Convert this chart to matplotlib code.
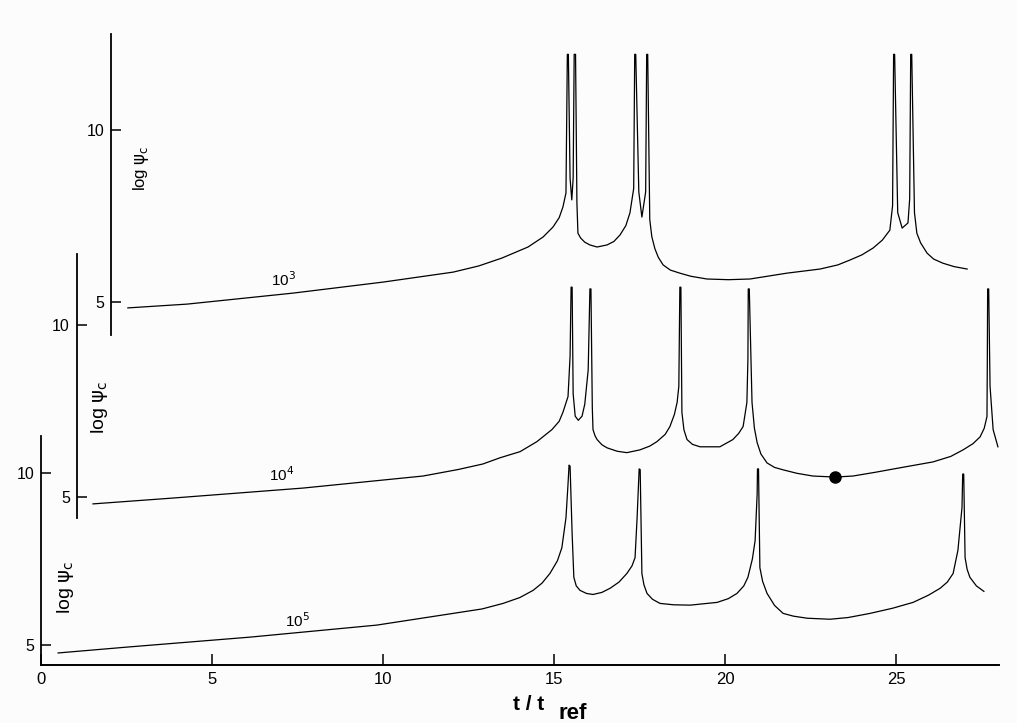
"""
plot.py
三条 log psi_c 随 t/t_ref 变化的曲线（10^3, 10^4, 10^5），纵轴相互错开。
"""
import matplotlib
matplotlib.use('Agg')
import matplotlib.pyplot as plt

plt.rcParams['font.family'] = ['Liberation Sans', 'DejaVu Sans']

# ---- 数据：10^3 曲线（上方坐标轴）----
t_1e3 = [2.54, 4.27, 7.37, 10.0, 12.05, 12.8, 13.48, 14.24, 14.68, 14.97, 15.15,
         15.26, 15.35, 15.39, 15.42, 15.47, 15.52, 15.56, 15.59, 15.63, 15.67,
         15.70, 15.78, 15.90, 16.05, 16.26, 16.55, 16.75, 16.93, 17.10, 17.22,
         17.33, 17.36, 17.39, 17.48, 17.57, 17.68, 17.71, 17.74, 17.80, 17.86,
         17.95, 18.05, 18.19, 18.40, 18.68, 19.0, 19.47, 20.1, 20.73, 21.81,
         22.78, 23.3, 23.65, 24.0, 24.33, 24.6, 24.82, 24.90, 24.93, 24.96,
         25.05, 25.18, 25.35, 25.40, 25.43, 25.46, 25.54, 25.61, 25.72, 25.91,
         26.1, 26.37, 26.7, 27.08]
psi_1e3 = [4.83, 4.94, 5.26, 5.58, 5.87, 6.05, 6.28, 6.60, 6.89, 7.18, 7.45,
           7.76, 8.17, 12.2, 12.2, 8.6, 7.97, 8.6, 12.2, 12.2, 7.88,
           7.0, 6.86, 6.74, 6.66, 6.60, 6.66, 6.76, 6.95, 7.22, 7.59,
           8.3, 12.2, 12.2, 8.2, 7.47, 8.2, 12.2, 12.2, 7.4, 6.9,
           6.55, 6.30, 6.08, 5.93, 5.84, 5.75, 5.67, 5.65, 5.67, 5.84,
           5.96, 6.08, 6.22, 6.37, 6.57, 6.80, 7.09, 7.8, 12.2, 12.2,
           7.6, 7.15, 7.30, 8.0, 12.2, 12.2, 7.6, 7.0, 6.72, 6.42,
           6.25, 6.13, 6.03, 5.96]

# ---- 数据：10^4 曲线（中间坐标轴）----
t_1e4 = [1.52, 3.86, 7.66, 11.17, 12.2, 12.92, 13.42, 14.01, 14.50, 14.94,
         15.15, 15.26, 15.41, 15.47, 15.50, 15.53, 15.56, 15.62, 15.71, 15.82,
         15.90, 16.00, 16.05, 16.08, 16.12, 16.14, 16.20, 16.26, 16.40, 16.55,
         16.85, 17.13, 17.51, 17.80, 18.01, 18.25, 18.39, 18.52, 18.60, 18.65,
         18.68, 18.71, 18.74, 18.80, 18.89, 19.05, 19.27, 19.85, 20.23, 20.40,
         20.53, 20.64, 20.67, 20.68, 20.71, 20.79, 20.86, 20.94, 21.05, 21.23,
         21.45, 21.70, 22.10, 22.57, 23.22, 23.74, 24.4, 25.12, 26.08, 26.6,
         26.96, 27.25, 27.46, 27.58, 27.66, 27.67, 27.68, 27.71, 27.75, 27.84,
         27.98]
psi_1e4 = [4.80, 4.97, 5.26, 5.61, 5.80, 5.96, 6.14, 6.32, 6.61, 6.96,
           7.2, 7.46, 7.92, 9.09, 11.1, 11.1, 8.0, 7.35, 7.23, 7.35,
           7.7, 8.7, 11.05, 11.05, 7.6, 6.96, 6.78, 6.67, 6.52, 6.43,
           6.33, 6.29, 6.37, 6.48, 6.61, 6.82, 7.05, 7.4, 7.75, 8.22,
           11.1, 11.1, 7.46, 6.95, 6.67, 6.53, 6.46, 6.46, 6.67, 6.85,
           7.05, 7.75, 9.0, 11.05, 11.05, 7.75, 7.0, 6.58, 6.25, 5.99,
           5.86, 5.79, 5.69, 5.61, 5.58, 5.61, 5.72, 5.85, 6.02, 6.18,
           6.37, 6.55, 6.75, 7.0, 7.34, 8.92, 11.05, 11.05, 8.22, 6.96,
           6.46]
t_dot, psi_dot = 23.22, 5.58

# ---- 数据：10^5 曲线（下方坐标轴）----
t_1e5 = [0.50, 2.51, 6.11, 9.82, 12.05, 12.9, 13.51, 14.0, 14.39, 14.65,
         14.88, 15.10, 15.23, 15.35, 15.41, 15.44, 15.47, 15.53, 15.58, 15.65,
         15.76, 15.95, 16.14, 16.40, 16.64, 16.90, 17.13, 17.28, 17.37, 17.43,
         17.49, 17.52, 17.57, 17.63, 17.72, 17.88, 18.10, 18.50, 18.98, 19.77,
         20.10, 20.35, 20.55, 20.67, 20.80, 20.88, 20.94, 20.95, 20.98, 21.02,
         21.10, 21.23, 21.45, 21.70, 22.00, 22.40, 23.07, 23.6, 24.24, 24.9,
         25.50, 25.95, 26.29, 26.50, 26.67, 26.81, 26.93, 26.95, 26.98, 27.02,
         27.08, 27.16, 27.35, 27.57]
psi_1e5 = [4.77, 4.94, 5.23, 5.58, 5.92, 6.05, 6.21, 6.38, 6.59, 6.8,
           7.08, 7.45, 7.83, 8.70, 9.68, 10.23, 10.2, 8.24, 6.97, 6.72,
           6.59, 6.50, 6.47, 6.53, 6.65, 6.83, 7.08, 7.3, 7.54, 8.70,
           10.12, 10.1, 7.08, 6.75, 6.50, 6.33, 6.21, 6.17, 6.16, 6.24,
           6.35, 6.50, 6.72, 6.97, 7.5, 8.03, 9.39, 10.12, 10.12, 7.25,
           6.85, 6.50, 6.15, 5.92, 5.84, 5.78, 5.75, 5.80, 5.92, 6.07,
           6.24, 6.45, 6.65, 6.83, 7.08, 7.75, 9.0, 9.97, 9.97, 7.54,
           7.2, 6.97, 6.72, 6.56]

x_ticks = [0, 5, 10, 15, 20, 25]
y_ticks = [5, 10]

W, H = 1017, 723
fig = plt.figure(figsize=(W / 100, H / 100), dpi=100, facecolor='#fcfcfc')
rect = [41 / W, 58 / H, 957.6 / W, 665 / H]

ax_b = fig.add_axes(rect)
ax_m = fig.add_axes(rect)
ax_t = fig.add_axes(rect)

# 三个坐标轴：相同刻度尺度，不同纵向偏移
setup = [
    (ax_b, (4.42, 23.75), 0.0, (4.42, 11.08)),
    (ax_m, (0.116, 19.45), 1.05, (4.39, 12.06)),
    (ax_t, (-5.55, 13.78), 2.05, (4.04, 12.79)),
]
for ax, ylim, xpos, bounds in setup:
    ax.set_facecolor('none')
    ax.set_xlim(0, 28)
    ax.set_ylim(*ylim)
    for s in ['top', 'right']:
        ax.spines[s].set_visible(False)
    ax.spines['left'].set_position(('data', xpos))
    ax.spines['left'].set_bounds(*bounds)
    ax.spines['left'].set_linewidth(1.3)
    ax.set_yticks(y_ticks)
    ax.tick_params(axis='y', direction='in', length=7, width=1.1,
                   labelsize=11.5, pad=5)
    if ax is not ax_b:
        ax.spines['bottom'].set_visible(False)
        ax.set_xticks([])

ax_b.spines['bottom'].set_linewidth(1.4)
ax_b.set_xticks(x_ticks)
ax_b.tick_params(axis='x', direction='in', length=8, width=1.1,
                 labelsize=12, pad=5)

# 曲线
ax_t.plot(t_1e3, psi_1e3, color='black', lw=0.9, clip_on=False)
ax_m.plot(t_1e4, psi_1e4, color='black', lw=0.9, clip_on=False)
ax_m.plot(t_dot, psi_dot, 'o', color='black', ms=8)
ax_b.plot(t_1e5, psi_1e5, color='black', lw=0.9, clip_on=False)

# 曲线标注
ax_t.text(7.08, 5.64, r'10$^3$', fontsize=11, ha='center', va='center')
ax_m.text(7.05, 5.64, r'10$^4$', fontsize=11, ha='center', va='center')
ax_b.text(7.51, 5.72, r'10$^5$', fontsize=11, ha='center', va='center')

# 纵轴标题
ylab = r'log $\mathrm{\psi}_{\mathrm{c}}$'
fig.text(141 / W, 1 - 168 / H, ylab, fontsize=12, rotation=90,
         ha='center', va='center')
fig.text(100 / W, 1 - 407 / H, ylab, fontsize=14, rotation=90,
         ha='center', va='center')
fig.text(66 / W, 1 - 587 / H, ylab, fontsize=14, rotation=90,
         ha='center', va='center')

# 横轴标题
fig.text(513 / W, 1 - 710 / H, 't / t', fontsize=15, fontweight='bold',
         va='baseline')
fig.text(558 / W, 1 - 719 / H, 'ref', fontsize=16, fontweight='bold',
         va='baseline')

fig.savefig('out.png', dpi=100, facecolor=fig.get_facecolor())
